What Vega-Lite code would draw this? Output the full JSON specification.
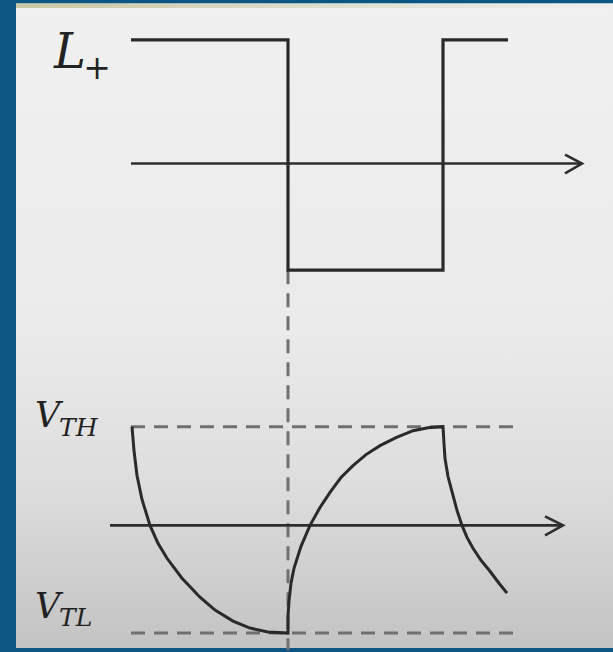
{
  "$schema": "https://vega.github.io/schema/vega-lite/v6.json",
  "width": 613,
  "height": 652,
  "autosize": {"type": "fit", "contains": "padding"},
  "padding": 0,
  "background": "#0b5683",
  "config": {"view": {"stroke": null}},
  "datasets": {
    "panel": [{"x": 16, "x2": 613, "y": 3.5, "y2": 650}],
    "band": [{"x": 16, "x2": 613, "y": 3.5, "y2": 8}],
    "dashes": [
      {"name": "VTH", "x": 131, "x2": 522, "y": 428, "y2": 428},
      {"name": "VTL", "x": 131, "x2": 522, "y": 635, "y2": 635},
      {"name": "switch", "x": 288, "x2": 288, "y": 271, "y2": 652}
    ],
    "square": [
      {"s": "sq", "o": 0, "x": 131, "y": 40},
      {"s": "sq", "o": 1, "x": 288, "y": 40},
      {"s": "sq", "o": 2, "x": 288, "y": 271},
      {"s": "sq", "o": 3, "x": 443, "y": 271},
      {"s": "sq", "o": 4, "x": 443, "y": 40},
      {"s": "sq", "o": 5, "x": 508, "y": 40}
    ],
    "axes": [
      {"s": "top", "o": 0, "x": 131, "y": 164},
      {"s": "top", "o": 1, "x": 582, "y": 164},
      {"s": "topArrow", "o": 0, "x": 565, "y": 155},
      {"s": "topArrow", "o": 1, "x": 582, "y": 164},
      {"s": "topArrow", "o": 2, "x": 565, "y": 174},
      {"s": "bot", "o": 0, "x": 110, "y": 527},
      {"s": "bot", "o": 1, "x": 563, "y": 527},
      {"s": "botArrow", "o": 0, "x": 545, "y": 518},
      {"s": "botArrow", "o": 1, "x": 563, "y": 527},
      {"s": "botArrow", "o": 2, "x": 545, "y": 537}
    ],
    "curve": [
      {"o": 0, "x": 132, "y": 428},
      {"o": 1, "x": 134, "y": 452},
      {"o": 2, "x": 137, "y": 477},
      {"o": 3, "x": 142, "y": 501},
      {"o": 4, "x": 150, "y": 527},
      {"o": 5, "x": 158, "y": 545},
      {"o": 6, "x": 167, "y": 560},
      {"o": 7, "x": 182, "y": 580},
      {"o": 8, "x": 200, "y": 599},
      {"o": 9, "x": 215, "y": 612},
      {"o": 10, "x": 233, "y": 623},
      {"o": 11, "x": 250, "y": 630},
      {"o": 12, "x": 268, "y": 634},
      {"o": 13, "x": 288, "y": 635},
      {"o": 14, "x": 288, "y": 618},
      {"o": 15, "x": 289, "y": 603},
      {"o": 16, "x": 291, "y": 585},
      {"o": 17, "x": 294, "y": 570},
      {"o": 18, "x": 301, "y": 548},
      {"o": 19, "x": 310, "y": 527},
      {"o": 20, "x": 320, "y": 509},
      {"o": 21, "x": 330, "y": 494},
      {"o": 22, "x": 341, "y": 479},
      {"o": 23, "x": 353, "y": 467},
      {"o": 24, "x": 366, "y": 456},
      {"o": 25, "x": 380, "y": 447},
      {"o": 26, "x": 396, "y": 439},
      {"o": 27, "x": 413, "y": 432},
      {"o": 28, "x": 428, "y": 429},
      {"o": 29, "x": 443, "y": 428},
      {"o": 30, "x": 444, "y": 445},
      {"o": 31, "x": 445, "y": 460},
      {"o": 32, "x": 448, "y": 478},
      {"o": 33, "x": 453, "y": 497},
      {"o": 34, "x": 457, "y": 512},
      {"o": 35, "x": 462, "y": 527},
      {"o": 36, "x": 467, "y": 539},
      {"o": 37, "x": 473, "y": 550},
      {"o": 38, "x": 481, "y": 562},
      {"o": 39, "x": 490, "y": 573},
      {"o": 40, "x": 499, "y": 585},
      {"o": 41, "x": 507, "y": 595}
    ],
    "bigL": [{"t": "L", "x": 54, "y": 68}],
    "plus": [{"t": "+", "x": 97, "y": 79}],
    "bigV": [{"t": "V", "x": 35, "y": 428}, {"t": "V", "x": 35, "y": 620}],
    "subs": [{"t": "TH", "x": 59, "y": 437}, {"t": "TL", "x": 59, "y": 628}]
  },
  "encoding": {
    "x": {"field": "x", "type": "quantitative", "scale": {"domain": [0, 613], "nice": false, "zero": false}, "axis": null},
    "y": {"field": "y", "type": "quantitative", "scale": {"domain": [0, 652], "nice": false, "zero": false, "reverse": true}, "axis": null}
  },
  "layer": [
    {
      "data": {"name": "panel"},
      "mark": {"type": "rect", "color": {"gradient": "linear", "x1": 0, "y1": 0, "x2": 0, "y2": 1, "stops": [
        {"offset": 0, "color": "#f0f0f0"},
        {"offset": 0.5, "color": "#ebebeb"},
        {"offset": 0.75, "color": "#dddddd"},
        {"offset": 1, "color": "#c3c3c3"}
      ]}},
      "encoding": {"x2": {"field": "x2"}, "y2": {"field": "y2"}}
    },
    {
      "data": {"name": "band"},
      "mark": {"type": "rect", "color": {"gradient": "linear", "x1": 0, "y1": 0, "x2": 1, "y2": 0, "stops": [
        {"offset": 0, "color": "#c9c7a2"},
        {"offset": 0.6, "color": "#e2e2d6"},
        {"offset": 1, "color": "#eeeeee"}
      ]}},
      "encoding": {"x2": {"field": "x2"}, "y2": {"field": "y2"}}
    },
    {
      "data": {"name": "dashes"},
      "mark": {"type": "rule", "color": "#707070", "strokeWidth": 3, "strokeDash": [14, 9]},
      "encoding": {"x2": {"field": "x2"}, "y2": {"field": "y2"}}
    },
    {
      "data": {"name": "axes"},
      "mark": {"type": "line", "color": "#2e2e2e", "strokeWidth": 2.6, "strokeJoin": "miter"},
      "encoding": {"detail": {"field": "s"}, "order": {"field": "o"}}
    },
    {
      "data": {"name": "square"},
      "mark": {"type": "line", "color": "#2a2a2a", "strokeWidth": 3.2, "strokeJoin": "miter"},
      "encoding": {"detail": {"field": "s"}, "order": {"field": "o"}}
    },
    {
      "data": {"name": "curve"},
      "mark": {"type": "line", "color": "#2a2a2a", "strokeWidth": 3, "strokeJoin": "miter", "interpolate": "linear"},
      "encoding": {"order": {"field": "o"}}
    },
    {
      "data": {"name": "bigL"},
      "mark": {"type": "text", "font": "DejaVu Serif", "fontStyle": "italic", "fontSize": 48, "align": "left", "baseline": "alphabetic", "color": "#222222"},
      "encoding": {"text": {"field": "t"}}
    },
    {
      "data": {"name": "plus"},
      "mark": {"type": "text", "font": "DejaVu Serif", "fontSize": 33, "align": "center", "baseline": "alphabetic", "color": "#222222"},
      "encoding": {"text": {"field": "t"}}
    },
    {
      "data": {"name": "bigV"},
      "mark": {"type": "text", "font": "DejaVu Serif", "fontStyle": "italic", "fontSize": 35, "align": "left", "baseline": "alphabetic", "color": "#222222"},
      "encoding": {"text": {"field": "t"}}
    },
    {
      "data": {"name": "subs"},
      "mark": {"type": "text", "font": "DejaVu Serif", "fontStyle": "italic", "fontSize": 25, "align": "left", "baseline": "alphabetic", "color": "#222222"},
      "encoding": {"text": {"field": "t"}}
    }
  ]
}
